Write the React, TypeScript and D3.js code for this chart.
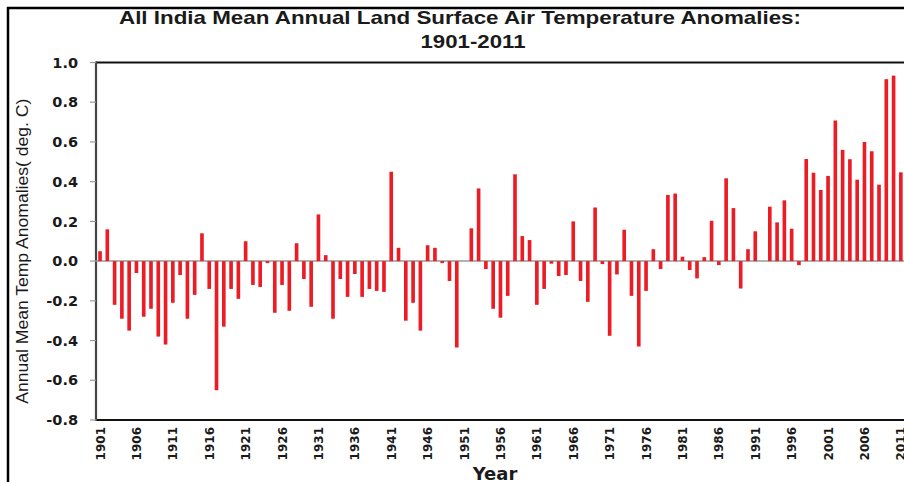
import React from "react";
import * as d3 from "d3";

// Annual mean land surface air temperature anomalies (deg. C), All India, 1901-2011
const years: number[] = d3.range(1901, 2012);
const anomalies: number[] = [
  0.05, 0.16, -0.22, -0.29, -0.35, -0.06, -0.28, -0.24, -0.38, -0.42,
  -0.21, -0.07, -0.29, -0.17, 0.14, -0.14, -0.65, -0.33, -0.14, -0.19,
  0.10, -0.12, -0.13, -0.01, -0.26, -0.12, -0.25, 0.09, -0.09, -0.23,
  0.235, 0.03, -0.29, -0.09, -0.18, -0.065, -0.18, -0.14, -0.15, -0.155,
  0.45, 0.067, -0.30, -0.21, -0.35, 0.08, 0.067, -0.01, -0.10, -0.435,
  0.0, 0.165, 0.366, -0.04, -0.24, -0.285, -0.175, 0.437, 0.126, 0.106,
  -0.22, -0.14, -0.013, -0.075, -0.07, 0.20, -0.10, -0.205, 0.27, -0.015,
  -0.376, -0.067, 0.158, -0.175, -0.43, -0.15, 0.06, -0.04, 0.333, 0.34,
  0.022, -0.045, -0.087, 0.02, 0.203, -0.02, 0.417, 0.267, -0.138, 0.06,
  0.15, 0.0, 0.274, 0.195, 0.306, 0.163, -0.02, 0.514, 0.445, 0.358,
  0.429, 0.708, 0.56, 0.513, 0.41, 0.60, 0.553, 0.385, 0.916, 0.934,
  0.447,
];
const yTicks: number[] = [1.0, 0.8, 0.6, 0.4, 0.2, 0.0, -0.2, -0.4, -0.6, -0.8];
const xTickYears: number[] = d3.range(1901, 2012, 5);

const titleLines = [
  "All India Mean Annual Land Surface Air Temperature Anomalies:",
  "1901-2011",
];
const yTitle = "Annual Mean Temp Anomalies( deg. C)";
const xTitle = "Year";

const W = 904;
const H = 482;
const plot = { left: 96, top: 62.5, right: 912, bottom: 420 };

export default function App() {
  const x = d3
    .scaleBand<number>()
    .domain(years)
    .range([96.4, 904.5])
    .paddingInner(0.5)
    .paddingOuter(0.25);
  const y = d3.scaleLinear().domain([-0.8, 1.0]).range([plot.bottom, plot.top]);
  const y0 = y(0);
  const bold = "'DejaVu Sans', Verdana, sans-serif";
  const arial = "'Liberation Sans', Arial, sans-serif";

  return (
    <svg
      width={W}
      height={H}
      style={{ position: "absolute", left: 0, top: 0, background: "#fff" }}
    >
      {/* outer frame */}
      <rect x={8} y={8} width={W + 20} height={H + 20} fill="#fff" stroke="#000" strokeWidth={2.5} />

      {/* title, widened to the frame's proportions */}
      <text
        x={460}
        y={24}
        textAnchor="middle"
        fontFamily={arial}
        fontWeight="bold"
        fontSize={19}
        textLength={682}
        lengthAdjust="spacingAndGlyphs"
        fill="#1a1a1a"
      >
        {titleLines[0]}
      </text>
      <text
        x={473}
        y={48}
        textAnchor="middle"
        fontFamily={arial}
        fontWeight="bold"
        fontSize={19}
        textLength={105}
        lengthAdjust="spacingAndGlyphs"
        fill="#1a1a1a"
      >
        {titleLines[1]}
      </text>

      {/* plot frame */}
      <line x1={plot.left} x2={plot.right} y1={plot.top} y2={plot.top} stroke="#111" strokeWidth={2.2} />
      <line x1={plot.left} x2={plot.right} y1={plot.bottom} y2={plot.bottom} stroke="#111" strokeWidth={2.2} />
      <line x1={plot.left} x2={plot.left} y1={plot.top - 1} y2={plot.bottom + 1} stroke="#444" strokeWidth={2.2} />

      {/* y ticks and labels */}
      {yTicks.map((t) => (
        <g key={t}>
          <line x1={plot.left - 6} x2={plot.left} y1={y(t)} y2={y(t)} stroke="#999" strokeWidth={1.2} />
          <text
            x={78}
            y={y(t)}
            dy="0.36em"
            textAnchor="end"
            fontFamily={bold}
            fontWeight="bold"
            fontSize={14.5}
            fill="#1a1a1a"
          >
            {t.toFixed(1)}
          </text>
        </g>
      ))}

      {/* zero line */}
      <line x1={plot.left} x2={plot.right} y1={y0} y2={y0} stroke="#999" strokeWidth={1.5} />

      {/* bars */}
      {years.map((yr, i) => {
        const v = anomalies[i];
        const top = Math.min(y(v), y0);
        const h = Math.abs(y(v) - y0);
        return (
          <rect
            key={yr}
            x={x(yr)}
            y={top}
            width={x.bandwidth()}
            height={h}
            fill="#ec1c24"
          />
        );
      })}

      {/* x tick labels */}
      {xTickYears.map((yr) => {
        const cx = (x(yr) as number) + x.bandwidth() / 2;
        return (
          <text
            key={yr}
            transform={`translate(${cx + 4.5},427) rotate(-90)`}
            textAnchor="end"
            fontFamily={bold}
            fontWeight="bold"
            fontSize={12}
            fill="#1a1a1a"
          >
            {yr}
          </text>
        );
      })}

      {/* axis titles */}
      <text
        x={495}
        y={480}
        textAnchor="middle"
        fontFamily={bold}
        fontWeight="bold"
        fontSize={18}
        fill="#1a1a1a"
      >
        {xTitle}
      </text>
      <text
        transform={`translate(28,${(plot.top + plot.bottom) / 2 + 10}) rotate(-90)`}
        textAnchor="middle"
        fontFamily={arial}
        fontSize={16.5}
        textLength={305}
        lengthAdjust="spacingAndGlyphs"
        fill="#1a1a1a"
      >
        {yTitle}
      </text>
    </svg>
  );
}
